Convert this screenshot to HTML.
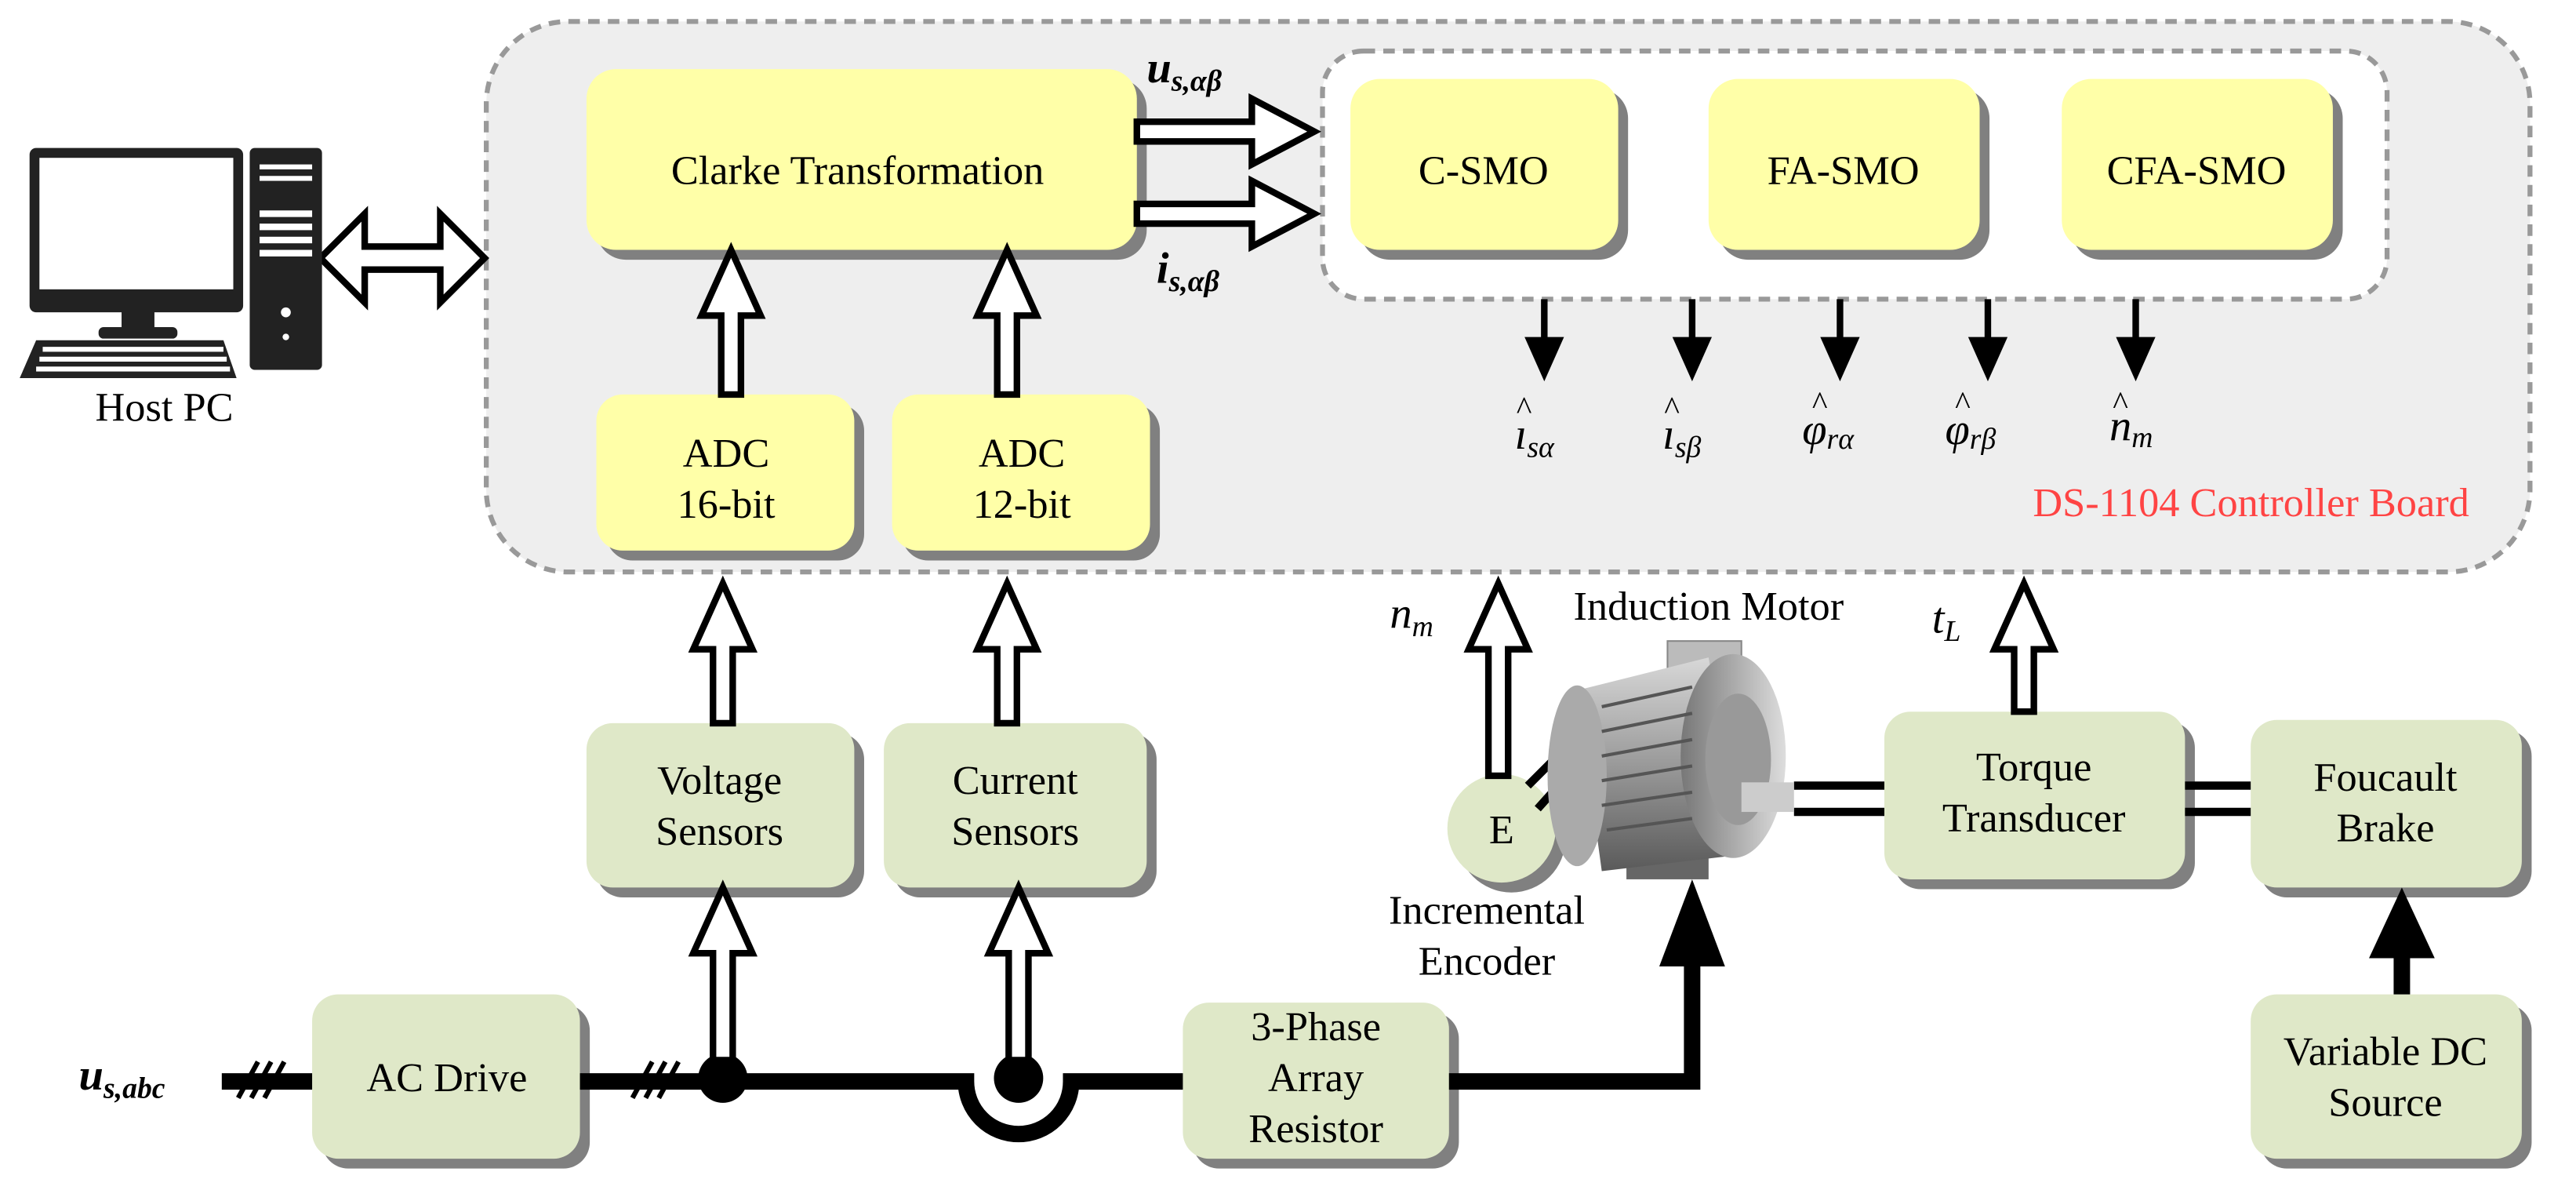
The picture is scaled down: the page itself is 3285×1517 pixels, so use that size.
<!DOCTYPE html>
<html><head><meta charset="utf-8"><style>
html,body{margin:0;padding:0;background:#fff;}
svg{display:block;}
svg text{font-family:"Liberation Serif","Times New Roman",Times,serif !important;}
</style></head><body>
<svg width="3285" height="1517" viewBox="0 0 1568 724" xmlns="http://www.w3.org/2000/svg">
<defs>
<linearGradient id="mg" x1="0" y1="0" x2="0" y2="1"><stop offset="0" stop-color="#d8d8d8"/><stop offset="0.5" stop-color="#9a9a9a"/><stop offset="1" stop-color="#5a5a5a"/></linearGradient>
<linearGradient id="mg2" x1="0" y1="0" x2="1" y2="0"><stop offset="0" stop-color="#777"/><stop offset="1" stop-color="#ddd"/></linearGradient>
</defs>
<rect x="296" y="13" width="1244" height="335" rx="50" fill="#eeeeee" stroke="#999" stroke-width="3" stroke-dasharray="7,5"/>
<rect x="805" y="31" width="648" height="151" rx="25" fill="#fff" stroke="#999" stroke-width="3" stroke-dasharray="7,5"/>
<g fill="#808080">
<rect x="363" y="48" width="335" height="110" rx="18"/>
<rect x="828" y="54" width="163" height="104" rx="18"/>
<rect x="1046" y="54" width="165" height="104" rx="18"/>
<rect x="1261" y="54" width="165" height="104" rx="18"/>
<rect x="369" y="246" width="157" height="95" rx="16"/>
<rect x="549" y="246" width="157" height="95" rx="16"/>
</g>
<g fill="#ffffa8">
<rect x="357" y="42" width="335" height="110" rx="18"/>
<rect x="822" y="48" width="163" height="104" rx="18"/>
<rect x="1040" y="48" width="165" height="104" rx="18"/>
<rect x="1255" y="48" width="165" height="104" rx="18"/>
<rect x="363" y="240" width="157" height="95" rx="16"/>
<rect x="543" y="240" width="157" height="95" rx="16"/>
</g>
<g font-size="25" text-anchor="middle">
<text x="522" y="112">Clarke Transformation</text>
<text x="903" y="112">C-SMO</text>
<text x="1122" y="112">FA-SMO</text>
<text x="1337" y="112">CFA-SMO</text>
<text x="442" y="284">ADC</text><text x="442" y="315">16-bit</text>
<text x="622" y="284">ADC</text><text x="622" y="315">12-bit</text>
</g>
<text x="1503" y="314" font-size="25" text-anchor="end" fill="#ff4444">DS-1104 Controller Board</text>
<g fill="#808080">
<rect x="363" y="446" width="163" height="100" rx="16"/>
<rect x="544" y="446" width="160" height="100" rx="16"/>
<rect x="196" y="611" width="163" height="100" rx="16"/>
<rect x="726" y="616" width="162" height="95" rx="16"/>
<rect x="1376" y="611" width="165" height="100" rx="16"/>
<rect x="1153" y="439" width="183" height="102" rx="16"/>
<rect x="1376" y="444" width="165" height="102" rx="16"/>
<circle cx="920" cy="510" r="33"/>
</g>
<g fill="#dfe8c8">
<rect x="357" y="440" width="163" height="100" rx="16"/>
<rect x="538" y="440" width="160" height="100" rx="16"/>
<rect x="190" y="605" width="163" height="100" rx="16"/>
<rect x="720" y="610" width="162" height="95" rx="16"/>
<rect x="1370" y="605" width="165" height="100" rx="16"/>
<rect x="1147" y="433" width="183" height="102" rx="16"/>
<rect x="1370" y="438" width="165" height="102" rx="16"/>
<circle cx="914" cy="504" r="33"/>
</g>
<path d="M135 658 H190 M353 658 H588 A32 32 0 0 0 652 658 H720 M882 658 H1030 V585" fill="none" stroke="#000" stroke-width="10"/>
<polygon points="1010,588 1050,588 1030,535" fill="#000"/>
<line x1="1462" y1="605" x2="1462" y2="580" stroke="#000" stroke-width="10"/>
<polygon points="1442,583 1482,583 1462,540" fill="#000"/>
<circle cx="440" cy="656" r="15" fill="#000"/>
<circle cx="620" cy="656" r="15" fill="#000"/>
<g stroke="#000" stroke-width="3">
<line x1="145" y1="668" x2="157" y2="646"/><line x1="153" y1="668" x2="165" y2="646"/><line x1="161" y1="668" x2="173" y2="646"/>
<line x1="385" y1="668" x2="397" y2="646"/><line x1="393" y1="668" x2="405" y2="646"/><line x1="401" y1="668" x2="413" y2="646"/>
</g>
<g font-size="25" text-anchor="middle">
<text x="438" y="483">Voltage</text><text x="438" y="514">Sensors</text>
<text x="618" y="483">Current</text><text x="618" y="514">Sensors</text>
<text x="272" y="664">AC Drive</text>
<text x="801" y="633">3-Phase</text><text x="801" y="664">Array</text><text x="801" y="695">Resistor</text>
<text x="1452" y="648">Variable DC</text><text x="1452" y="679">Source</text>
<text x="1238" y="475">Torque</text><text x="1238" y="506">Transducer</text>
<text x="1452" y="481">Foucault</text><text x="1452" y="512">Brake</text>
<text x="914" y="513">E</text>
<text x="905" y="562">Incremental</text><text x="905" y="593">Encoder</text>
<text x="1040" y="377">Induction Motor</text>
<text x="100" y="256">Host PC</text>
</g>
<g fill="#fff" stroke="#000" stroke-width="4">
<polygon points="439,240 439,192 427,192 445,152 463,192 451,192 451,240"/>
<polygon points="607,240 607,192 595,192 613,152 631,192 619,192 619,240"/>
<polygon points="434,440 434,395 422,395 440,355 458,395 446,395 446,440"/>
<polygon points="607,440 607,395 595,395 613,355 631,395 619,395 619,440"/>
<polygon points="434,645 434,580 422,580 440,540 458,580 446,580 446,645"/>
<polygon points="614,645 614,580 602,580 620,540 638,580 626,580 626,645"/>
<polygon points="906,472 906,395 894,395 912,355 930,395 918,395 918,472"/>
<polygon points="1226,433 1226,395 1214,395 1232,355 1250,395 1238,395 1238,433"/>
<polygon points="692,74 762,74 762,60 800,80 762,100 762,86 692,86"/>
<polygon points="692,124 762,124 762,110 800,130 762,150 762,136 692,136"/>
<polygon points="195,157 222,130 222,150 268,150 268,130 295,157 268,184 268,164 222,164 222,184"/>
</g>
<g stroke="#000" stroke-width="4">
<line x1="940" y1="182" x2="940" y2="208"/><line x1="1030" y1="182" x2="1030" y2="208"/><line x1="1120" y1="182" x2="1120" y2="208"/><line x1="1210" y1="182" x2="1210" y2="208"/><line x1="1300" y1="182" x2="1300" y2="208"/>
</g>
<g fill="#000">
<polygon points="928,205 952,205 940,232"/><polygon points="1018,205 1042,205 1030,232"/><polygon points="1108,205 1132,205 1120,232"/><polygon points="1198,205 1222,205 1210,232"/><polygon points="1288,205 1312,205 1300,232"/>
</g>
<g font-size="27" font-style="italic">
<text x="922" y="273">ı<tspan font-size="18" dy="5">sα</tspan></text>
<text x="1012" y="273">ı<tspan font-size="18" dy="5">sβ</tspan></text>
<text x="1097" y="270">φ<tspan font-size="18" dy="3">rα</tspan></text>
<text x="1184" y="270">φ<tspan font-size="18" dy="3">rβ</tspan></text>
<text x="1284" y="268">n<tspan font-size="18" dy="4">m</tspan></text>
<text x="698" y="50" font-weight="bold">u<tspan font-size="18" dy="5">s,αβ</tspan></text>
<text x="704" y="172" font-weight="bold">i<tspan font-size="18" dy="5">s,αβ</tspan></text>
<text x="846" y="382">n<tspan font-size="18" dy="5">m</tspan></text>
<text x="1176" y="385">t<tspan font-size="18" dy="5">L</tspan></text>
<text x="48" y="663" font-weight="bold">u<tspan font-size="18" dy="5">s,abc</tspan></text>
</g>
<g font-size="20">
<text x="923" y="255">^</text><text x="1013" y="255">^</text><text x="1103" y="252">^</text><text x="1190" y="252">^</text><text x="1286" y="252">^</text>
</g>
<g stroke="#000" stroke-width="5">
<line x1="1092" y1="478" x2="1147" y2="478"/><line x1="1092" y1="494" x2="1147" y2="494"/>
<line x1="1330" y1="478" x2="1370" y2="478"/><line x1="1330" y1="494" x2="1370" y2="494"/>
<line x1="930" y1="478" x2="948" y2="460"/><line x1="936" y1="492" x2="954" y2="472"/>
</g>
<g>
<rect x="1015" y="390" width="45" height="35" fill="#bbb" stroke="#888"/>
<rect x="990" y="470" width="50" height="65" fill="#666"/>
<path d="M960 420 L1040 400 L1060 520 L975 530 Z" fill="url(#mg)"/>
<ellipse cx="960" cy="472" rx="18" ry="55" fill="#aaa"/>
<ellipse cx="1055" cy="460" rx="32" ry="62" fill="url(#mg2)"/>
<ellipse cx="1058" cy="462" rx="20" ry="40" fill="#999"/>
<rect x="1060" y="476" width="32" height="18" fill="#ccc"/>
<g stroke="#555" stroke-width="2">
<line x1="975" y1="430" x2="1030" y2="418"/><line x1="975" y1="445" x2="1030" y2="434"/><line x1="975" y1="460" x2="1030" y2="450"/><line x1="975" y1="475" x2="1030" y2="466"/><line x1="975" y1="490" x2="1030" y2="482"/><line x1="978" y1="505" x2="1030" y2="498"/>
</g>
</g>
<g fill="#222">
<rect x="18" y="90" width="130" height="100" rx="4"/>
<rect x="152" y="90" width="44" height="135" rx="3"/>
<rect x="74" y="189" width="20" height="12"/>
<rect x="60" y="199" width="48" height="7" rx="3"/>
<path d="M22 207 L136 207 L144 230 L12 230 Z"/>
</g>
<rect x="24" y="96" width="118" height="80" fill="#fff"/>
<g fill="#fff">
<rect x="158" y="100" width="32" height="3"/><rect x="158" y="107" width="32" height="3"/>
<rect x="158" y="128" width="32" height="4"/><rect x="158" y="136" width="32" height="4"/><rect x="158" y="144" width="32" height="4"/><rect x="158" y="152" width="32" height="4"/>
<circle cx="174" cy="190" r="3"/><circle cx="174" cy="205" r="2"/>
<rect x="26" y="211" width="110" height="3"/><rect x="24" y="217" width="114" height="3"/><rect x="22" y="223" width="118" height="3"/>
</g>
</svg>
</body></html>
